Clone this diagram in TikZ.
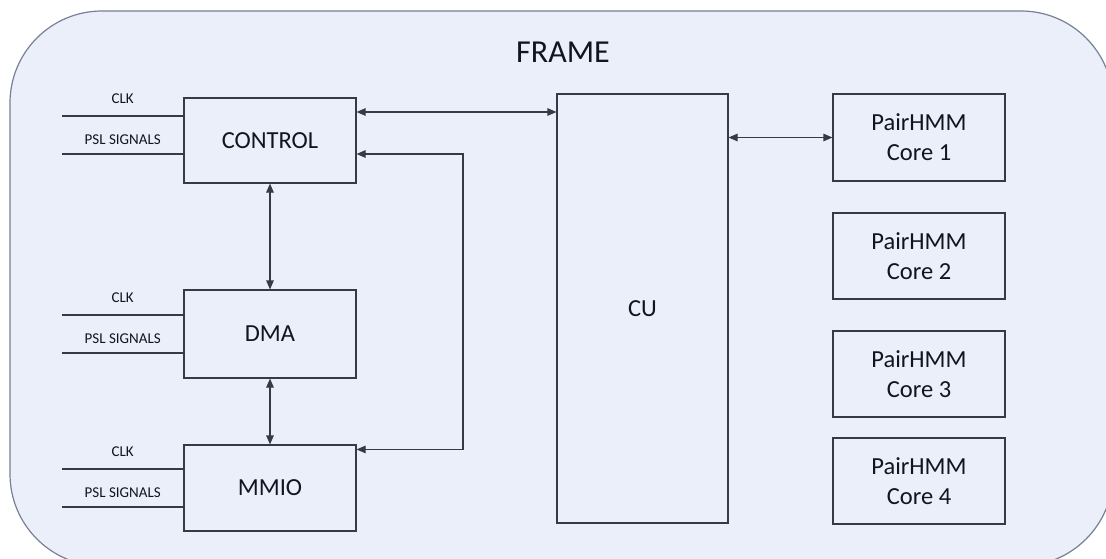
\documentclass[tikz,border=0pt]{standalone}
\usepackage{fontspec}
\setmainfont{Carlito}
\usetikzlibrary{arrows.meta,positioning}

\definecolor{framefill}{RGB}{234,239,250}
\definecolor{frameline}{RGB}{118,128,150}
\definecolor{boxline}{RGB}{55,58,68}
\definecolor{inktext}{RGB}{18,20,30}

\begin{document}
\begin{tikzpicture}[x=1pt,y=-1pt,
  block/.style={draw=boxline,line width=1.1pt,minimum width=172pt,
    minimum height=86pt,inner sep=0pt,text=inktext,
    font=\fontsize{24.5}{30}\selectfont,align=center},
  sig/.style={text=inktext,font=\fontsize{15}{17}\selectfont,inner sep=0pt},
  wire/.style={draw=boxline,line width=1.1pt},
  link/.style={wire,{Triangle[length=9pt,width=7.5pt]}-{Triangle[length=9pt,width=7.5pt]}},
]
\clip (0,0) rectangle (1106,559);
% outer frame
\draw[draw=frameline,fill=framefill,line width=1.2pt,rounded corners=92pt]
  (10,11) rectangle (1113,566);
\node[text=inktext,font=\fontsize{32}{38}\selectfont] (title) at (563,52) {FRAME};

% blocks on the left
\node[block,minimum height=85pt] (ctrl) at (270,140.5) {CONTROL};
\node[block,minimum height=88pt] (dma) at (270,334) {DMA};
\node[block] (mmio) at (270,488) {MMIO};

% control unit
\node[block,minimum width=171pt,minimum height=429pt] (cu) at (642.5,308.5) {CU};

% cores
\node[block,minimum height=87pt] (core1) at (919,137.5) {PairHMM\\Core 1};
\node[block] (core2) at (919,256) {PairHMM\\Core 2};
\node[block] (core3) at (919,374) {PairHMM\\Core 3};
\node[block] (core4) at (919,481) {PairHMM\\Core 4};

% input signals
\foreach \blk/\ya/\yb in {ctrl/116/154,dma/315/353,mmio/469/507}{
  \coordinate (\blk-clk) at (62,\ya);
  \coordinate (\blk-psl) at (62,\yb);
  \draw[wire] (\blk-clk) -- (\blk-clk -| \blk.west)
    node[sig,midway,above=12pt] {CLK};
  \draw[wire] (\blk-psl) -- (\blk-psl -| \blk.west)
    node[sig,midway,above=9pt] {PSL SIGNALS};
}

% connections
\coordinate (c2u) at ([yshift=28.5pt]ctrl.east);
\draw[link] (c2u) -- (c2u -| cu.west);
\draw[link] (cu.east |- core1.west) -- (core1.west);
\draw[link] (ctrl.south) -- (dma.north);
\draw[link] (dma.south) -- (mmio.north);
\coordinate (ret) at (463,300);
\draw[link] ([yshift=-13.5pt]ctrl.east) -| (ret) |- ([yshift=-5pt]mmio.north east);
\end{tikzpicture}
\end{document}
